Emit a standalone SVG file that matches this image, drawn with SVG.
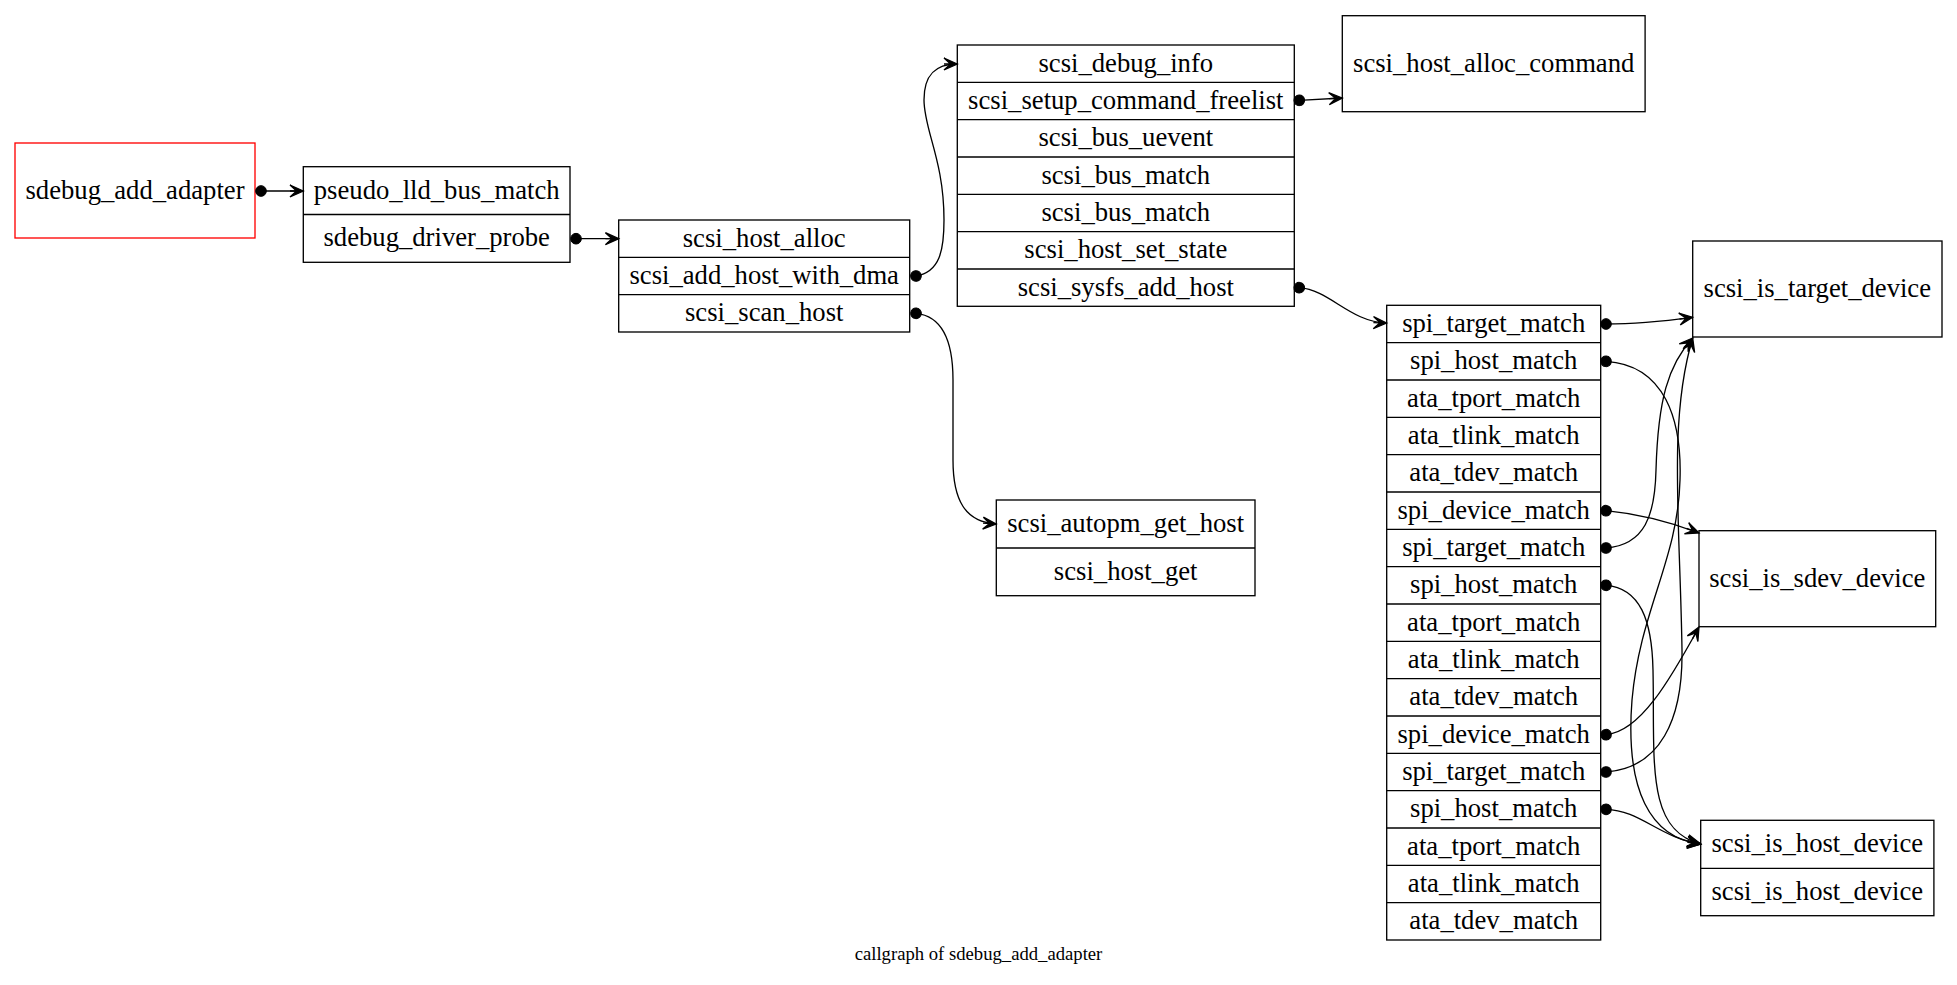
<svg xmlns="http://www.w3.org/2000/svg" width="1957" height="985" viewBox="0 0 1957 985">
  <style>
    .box { fill: none; stroke: #000; stroke-width: 1.33; }
    .root { fill: none; stroke: #ff0000; stroke-width: 1.33; }
    .sep { stroke: #000; stroke-width: 1.33; }
    .lbl { font-family: "Liberation Serif", "Times New Roman", serif; font-size: 26.67px; text-anchor: middle; fill: #000; }
    .cap { font-family: "Liberation Serif", "Times New Roman", serif; font-size: 18.67px; text-anchor: middle; fill: #000; }
    .edge { fill: none; stroke: #000; stroke-width: 1.33; marker-start: url(#tail); marker-end: url(#head); }
  </style>
  <defs>
    <!-- filled dot at the calling field -->
    <marker id="tail" markerUnits="userSpaceOnUse" viewBox="-7 -7 14 14" refX="0" refY="0" markerWidth="14" markerHeight="14" orient="auto" overflow="visible">
      <circle cx="0" cy="0" r="5.33" fill="#000" stroke="#000" stroke-width="1"/>
    </marker>
    <!-- vee arrowhead at the callee -->
    <marker id="head" markerUnits="userSpaceOnUse" viewBox="-15 -8 16 16" refX="0" refY="0" markerWidth="16" markerHeight="16" orient="auto" overflow="visible">
      <path d="M0,0 L-13.3,-6 L-6.7,0 L-13.3,0 L-6.7,0 L-13.3,6 Z" fill="#000" stroke="#000" stroke-width="1.33" stroke-linejoin="miter"/>
    </marker>
  </defs>

  <rect width="1957" height="985" fill="#fff"/>

  <g id="sdebug_add_adapter">
    <rect class="root" x="15" y="143" width="240" height="95"/>
    <text class="lbl" x="135" y="198.5">sdebug_add_adapter</text>
  </g>

  <g id="pseudo_lld_bus_match">
    <rect class="box" x="303.3" y="166.7" width="266.7" height="95.6"/>
    <line class="sep" x1="303.3" y1="214.5" x2="570" y2="214.5"/>
    <text class="lbl" x="436.7" y="198.6">pseudo_lld_bus_match</text>
    <text class="lbl" x="436.7" y="246.4">sdebug_driver_probe</text>
  </g>

  <g id="scsi_host_alloc">
    <rect class="box" x="618.7" y="220" width="291" height="112"/>
    <line class="sep" x1="618.7" y1="257.3" x2="909.7" y2="257.3"/>
    <line class="sep" x1="618.7" y1="294.7" x2="909.7" y2="294.7"/>
    <text class="lbl" x="764.2" y="246.7">scsi_host_alloc</text>
    <text class="lbl" x="764.2" y="284">scsi_add_host_with_dma</text>
    <text class="lbl" x="764.2" y="321.3">scsi_scan_host</text>
  </g>

  <g id="scsi_debug_info">
    <rect class="box" x="957.3" y="45" width="337" height="261.3"/>
    <line class="sep" x1="957.3" y1="82.3" x2="1294.3" y2="82.3"/>
    <line class="sep" x1="957.3" y1="119.7" x2="1294.3" y2="119.7"/>
    <line class="sep" x1="957.3" y1="157" x2="1294.3" y2="157"/>
    <line class="sep" x1="957.3" y1="194.3" x2="1294.3" y2="194.3"/>
    <line class="sep" x1="957.3" y1="231.7" x2="1294.3" y2="231.7"/>
    <line class="sep" x1="957.3" y1="269" x2="1294.3" y2="269"/>
    <text class="lbl" x="1125.8" y="71.7">scsi_debug_info</text>
    <text class="lbl" x="1125.8" y="109">scsi_setup_command_freelist</text>
    <text class="lbl" x="1125.8" y="146.3">scsi_bus_uevent</text>
    <text class="lbl" x="1125.8" y="183.7">scsi_bus_match</text>
    <text class="lbl" x="1125.8" y="221">scsi_bus_match</text>
    <text class="lbl" x="1125.8" y="258.3">scsi_host_set_state</text>
    <text class="lbl" x="1125.8" y="295.7">scsi_sysfs_add_host</text>
  </g>

  <g id="scsi_host_alloc_command">
    <rect class="box" x="1342.3" y="15.7" width="302.8" height="96"/>
    <text class="lbl" x="1493.7" y="71.7">scsi_host_alloc_command</text>
  </g>

  <g id="scsi_autopm_get_host">
    <rect class="box" x="996.3" y="500" width="258.7" height="95.7"/>
    <line class="sep" x1="996.3" y1="548" x2="1255" y2="548"/>
    <text class="lbl" x="1125.7" y="532">scsi_autopm_get_host</text>
    <text class="lbl" x="1125.7" y="579.8">scsi_host_get</text>
  </g>

  <g id="spi_target_match">
    <rect class="box" x="1386.7" y="305.3" width="214" height="634.7"/>
    <line class="sep" x1="1386.7" y1="342.7" x2="1600.7" y2="342.7"/>
    <line class="sep" x1="1386.7" y1="380" x2="1600.7" y2="380"/>
    <line class="sep" x1="1386.7" y1="417.3" x2="1600.7" y2="417.3"/>
    <line class="sep" x1="1386.7" y1="454.7" x2="1600.7" y2="454.7"/>
    <line class="sep" x1="1386.7" y1="492" x2="1600.7" y2="492"/>
    <line class="sep" x1="1386.7" y1="529.3" x2="1600.7" y2="529.3"/>
    <line class="sep" x1="1386.7" y1="566.7" x2="1600.7" y2="566.7"/>
    <line class="sep" x1="1386.7" y1="604" x2="1600.7" y2="604"/>
    <line class="sep" x1="1386.7" y1="641.3" x2="1600.7" y2="641.3"/>
    <line class="sep" x1="1386.7" y1="678.7" x2="1600.7" y2="678.7"/>
    <line class="sep" x1="1386.7" y1="716" x2="1600.7" y2="716"/>
    <line class="sep" x1="1386.7" y1="753.3" x2="1600.7" y2="753.3"/>
    <line class="sep" x1="1386.7" y1="790.7" x2="1600.7" y2="790.7"/>
    <line class="sep" x1="1386.7" y1="828" x2="1600.7" y2="828"/>
    <line class="sep" x1="1386.7" y1="865.3" x2="1600.7" y2="865.3"/>
    <line class="sep" x1="1386.7" y1="902.7" x2="1600.7" y2="902.7"/>
    <text class="lbl" x="1493.7" y="332">spi_target_match</text>
    <text class="lbl" x="1493.7" y="369.3">spi_host_match</text>
    <text class="lbl" x="1493.7" y="406.7">ata_tport_match</text>
    <text class="lbl" x="1493.7" y="444">ata_tlink_match</text>
    <text class="lbl" x="1493.7" y="481.3">ata_tdev_match</text>
    <text class="lbl" x="1493.7" y="518.7">spi_device_match</text>
    <text class="lbl" x="1493.7" y="556">spi_target_match</text>
    <text class="lbl" x="1493.7" y="593.3">spi_host_match</text>
    <text class="lbl" x="1493.7" y="630.7">ata_tport_match</text>
    <text class="lbl" x="1493.7" y="668">ata_tlink_match</text>
    <text class="lbl" x="1493.7" y="705.3">ata_tdev_match</text>
    <text class="lbl" x="1493.7" y="742.7">spi_device_match</text>
    <text class="lbl" x="1493.7" y="780">spi_target_match</text>
    <text class="lbl" x="1493.7" y="817.3">spi_host_match</text>
    <text class="lbl" x="1493.7" y="854.7">ata_tport_match</text>
    <text class="lbl" x="1493.7" y="892">ata_tlink_match</text>
    <text class="lbl" x="1493.7" y="929.3">ata_tdev_match</text>
  </g>

  <g id="scsi_is_target_device">
    <rect class="box" x="1692.7" y="241" width="249.3" height="96"/>
    <text class="lbl" x="1817.3" y="297">scsi_is_target_device</text>
  </g>

  <g id="scsi_is_sdev_device">
    <rect class="box" x="1699" y="530.7" width="236.7" height="96"/>
    <text class="lbl" x="1817.3" y="586.7">scsi_is_sdev_device</text>
  </g>

  <g id="scsi_is_host_device">
    <rect class="box" x="1700.7" y="820.3" width="233.2" height="95.4"/>
    <line class="sep" x1="1700.7" y1="868.3" x2="1933.9" y2="868.3"/>
    <text class="lbl" x="1817.3" y="852.3">scsi_is_host_device</text>
    <text class="lbl" x="1817.3" y="900">scsi_is_host_device</text>
  </g>

  <g id="edges">
    <path class="edge" d="M261,191 L303.3,191"/>
    <path class="edge" d="M576,238.7 L618.7,238.7"/>
    <path class="edge" d="M916,276 C940,272 944,250 944,220 C944,160 924,130 924,100 C924,75 935,64 957.3,64"/>
    <path class="edge" d="M916,313.3 C942,316 953,340 953,380 L953,460 C953,500 965,522 996.3,524"/>
    <path class="edge" d="M1299.3,100.3 L1342.3,98"/>
    <path class="edge" d="M1299.3,287.7 C1330,290 1350,322 1386.7,323"/>
    <path class="edge" d="M1606,324 C1640,324 1665,321 1692.7,317.3"/>
    <path class="edge" d="M1606,361.3 C1665,365 1682,420 1680,480 C1678,560 1640,610 1632,700 C1625,790 1650,838 1700.7,844"/>
    <path class="edge" d="M1606,510.7 C1640,514 1670,522 1699,533"/>
    <path class="edge" d="M1606,548 C1645,545 1655,515 1656,470 C1658,400 1668,365 1692.7,338"/>
    <path class="edge" d="M1606,585.3 C1640,588 1652,620 1653,670 C1655,760 1645,830 1700.7,844"/>
    <path class="edge" d="M1606,734.7 C1640,732 1670,680 1699,627"/>
    <path class="edge" d="M1606,772 C1660,768 1683,720 1682,650 C1680,520 1668,420 1692.7,338"/>
    <path class="edge" d="M1606,809.3 C1640,810 1660,838 1700.7,844"/>
  </g>

  <text class="cap" x="978.5" y="960">callgraph of sdebug_add_adapter</text>
</svg>
